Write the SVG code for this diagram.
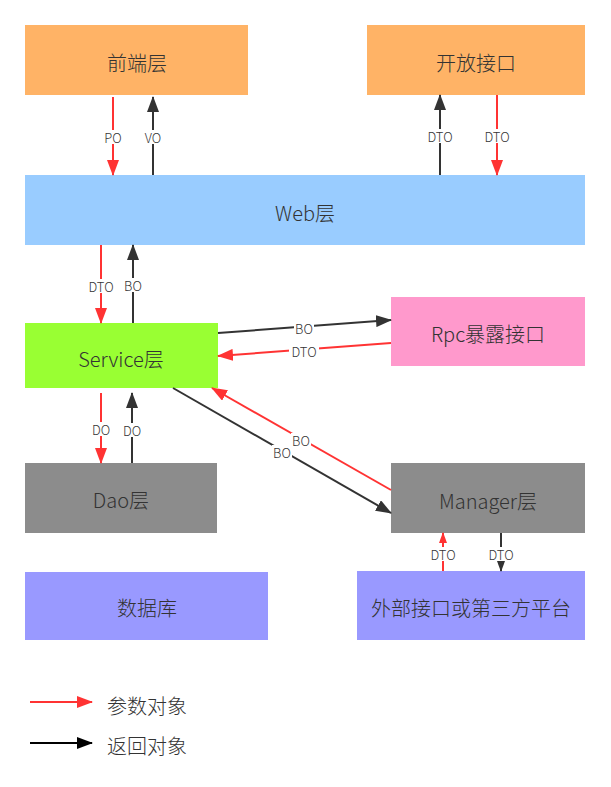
<svg xmlns="http://www.w3.org/2000/svg" width="611" height="787" viewBox="0 0 611 787">
<style>
.nt{font-family:"Microsoft YaHei","Noto Sans CJK SC","Noto Sans",sans-serif;font-size:20px;font-weight:300;fill:#333;text-anchor:middle;dominant-baseline:central}
.lt{font-family:"Microsoft YaHei","Noto Sans CJK SC","Noto Sans",sans-serif;font-size:13px;font-weight:300;fill:#333;text-anchor:middle;dominant-baseline:central}
.lg{font-family:"Microsoft YaHei","Noto Sans CJK SC","Noto Sans",sans-serif;font-size:20px;font-weight:300;fill:#333;dominant-baseline:central}
.r{stroke:#FF3333;stroke-width:2;fill:none}
.k{stroke:#333;stroke-width:2;fill:none}
.bg{fill:#fff}
</style>
<defs>
<marker id="ar" markerUnits="userSpaceOnUse" markerWidth="16" markerHeight="12" refX="15" refY="6" orient="auto"><path d="M0,0 L16,6 L0,12 Z" fill="#FF3333"/></marker>
<marker id="ak" markerUnits="userSpaceOnUse" markerWidth="16" markerHeight="12" refX="15" refY="6" orient="auto"><path d="M0,0 L16,6 L0,12 Z" fill="#333"/></marker>
<marker id="sr" markerUnits="userSpaceOnUse" markerWidth="11" markerHeight="8" refX="10" refY="4" orient="auto"><path d="M0,0 L11,4 L0,8 Z" fill="#FF3333"/></marker>
<marker id="sk" markerUnits="userSpaceOnUse" markerWidth="11" markerHeight="8" refX="10" refY="4" orient="auto"><path d="M0,0 L11,4 L0,8 Z" fill="#333"/></marker>
<marker id="lk" markerUnits="userSpaceOnUse" markerWidth="16" markerHeight="12" refX="15" refY="6" orient="auto"><path d="M0,0 L16,6 L0,12 Z" fill="#000"/></marker>
</defs>

<g id="node-frontend"><rect x="25" y="25" width="223" height="70" fill="#FFB366"/><text class="nt" x="137" y="62">前端层</text></g>
<g id="node-open"><rect x="367" y="25" width="218" height="70" fill="#FFB366"/><text class="nt" x="476" y="62">开放接口</text></g>
<g id="node-web"><rect x="25" y="175" width="560" height="70" fill="#99CCFF"/><text class="nt" x="305" y="212">Web层</text></g>
<g id="node-service"><rect x="25" y="323" width="193" height="65" fill="#99FF33"/><text class="nt" x="121" y="358">Service层</text></g>
<g id="node-rpc"><rect x="391" y="297" width="194" height="69" fill="#FF99CC"/><text class="nt" x="488" y="333">Rpc暴露接口</text></g>
<g id="node-dao"><rect x="25" y="463" width="192" height="70" fill="#8C8C8C"/><text class="nt" x="121" y="499">Dao层</text></g>
<g id="node-manager"><rect x="391" y="463" width="194" height="70" fill="#8C8C8C"/><text class="nt" x="488" y="500">Manager层</text></g>
<g id="node-db"><rect x="25" y="572" width="243" height="68" fill="#9999FF"/><text class="nt" x="147" y="607">数据库</text></g>
<g id="node-ext"><rect x="357" y="571" width="228" height="69" fill="#9999FF"/><text class="nt" x="471" y="607">外部接口或第三方平台</text></g>

<g id="connectors">
<path class="r" d="M113,97 L113,175" marker-end="url(#ar)"/>
<path class="k" d="M153,175 L153,97" marker-end="url(#ak)"/>
<path class="k" d="M440,175 L440,95" marker-end="url(#ak)"/>
<path class="r" d="M497,95 L497,175" marker-end="url(#ar)"/>
<path class="r" d="M101,245 L101,323" marker-end="url(#ar)"/>
<path class="k" d="M133,323 L133,245" marker-end="url(#ak)"/>
<path class="k" d="M218,333 L391,320" marker-end="url(#ak)"/>
<path class="r" d="M391,343 L218,356" marker-end="url(#ar)"/>
<path class="r" d="M101,393 L101,463" marker-end="url(#ar)"/>
<path class="k" d="M132,463 L132,393" marker-end="url(#ak)"/>
<path class="k" d="M173,388 L391,513" marker-end="url(#ak)"/>
<path class="r" d="M391,490 L212,388" marker-end="url(#ar)"/>
<path class="r" d="M443,571 L443,533" marker-end="url(#sr)"/>
<path class="k" d="M501,533 L501,571" marker-end="url(#sk)"/>

<rect class="bg" x="103" y="130" width="20" height="14"/><text class="lt" x="113" y="137">PO</text>
<rect class="bg" x="143" y="130" width="20" height="14"/><text class="lt" x="153" y="137">VO</text>
<rect class="bg" x="425" y="129" width="30" height="14"/><text class="lt" x="440" y="136">DTO</text>
<rect class="bg" x="482" y="129" width="30" height="14"/><text class="lt" x="497" y="136">DTO</text>
<rect class="bg" x="86" y="279" width="30" height="14"/><text class="lt" x="101" y="286">DTO</text>
<rect class="bg" x="123" y="278" width="20" height="14"/><text class="lt" x="133" y="285">BO</text>
<rect class="bg" x="294" y="321" width="20" height="14"/><text class="lt" x="304" y="328">BO</text>
<rect class="bg" x="289" y="344" width="30" height="14"/><text class="lt" x="304" y="351">DTO</text>
<rect class="bg" x="91" y="422" width="20" height="14"/><text class="lt" x="101" y="429">DO</text>
<rect class="bg" x="122" y="423" width="20" height="14"/><text class="lt" x="132" y="430">DO</text>
<rect class="bg" x="291" y="433" width="20" height="14"/><text class="lt" x="301" y="440">BO</text>
<rect class="bg" x="272" y="445" width="20" height="14"/><text class="lt" x="282" y="452">BO</text>
<rect class="bg" x="428" y="547" width="30" height="14"/><text class="lt" x="443" y="554">DTO</text>
<rect class="bg" x="486" y="547" width="30" height="14"/><text class="lt" x="501" y="554">DTO</text>
</g>

<g id="legend">
<path class="r" d="M30,702 L92,702" marker-end="url(#ar)"/>
<text class="lg" x="107" y="705">参数对象</text>
<path d="M30,743 L92,743" stroke="#000" stroke-width="2" fill="none" marker-end="url(#lk)"/>
<text class="lg" x="107" y="745">返回对象</text>
</g>
</svg>
